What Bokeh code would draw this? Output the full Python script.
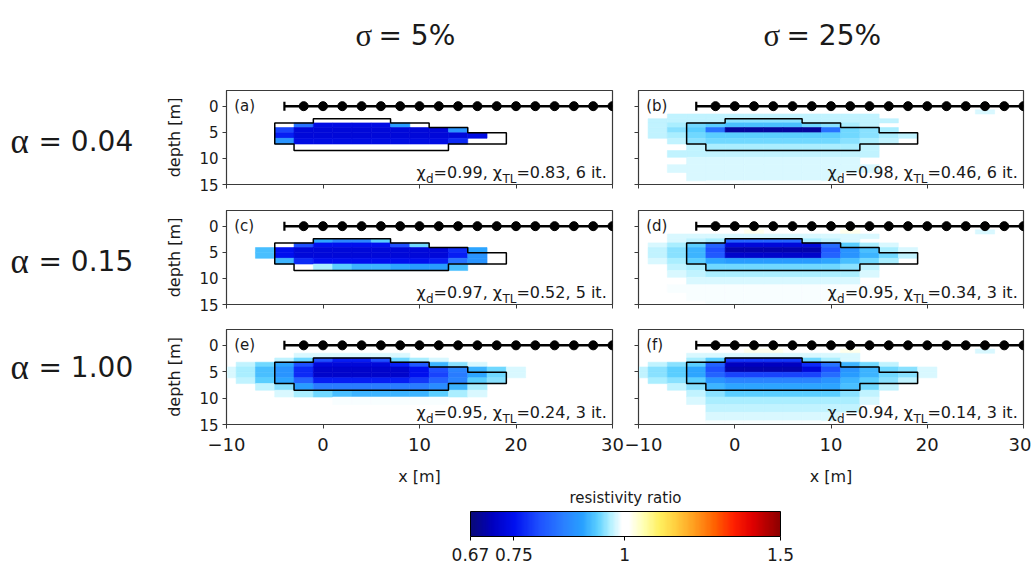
import numpy as np
from bokeh.plotting import figure
from bokeh.layouts import column, row
from bokeh.models import (Range1d, FixedTicker, Label, ColorBar, LogColorMapper,
                          ColumnDataSource, CustomJSTickFormatter)
from bokeh.transform import log_cmap
from bokeh.embed import file_html
from bokeh.resources import INLINE

# ---------------- data ----------------
cell_x = [-10, -8, -6, -4, -2, 0, 2, 4, 6, 8, 10, 12, 14, 16, 18, 20, 22, 24, 26, 28, 30]
cell_dx = 2.0
depth_edges = [0.0, 0.7, 1.5, 2.4, 3.2, 4.1, 5.1, 6.15, 7.25, 8.5, 9.8, 11.2, 12.7, 14.3, 16.0]
electrode_x = [-2, 0, 2, 4, 6, 8, 10, 12, 14, 16, 18, 20, 22, 24, 26, 28, 30]
cable_x = [-4, 30]
anomaly_x = [-5, -1, -1, 7, 7, 11, 11, 15, 15, 19, 19, 13, 13, -3, -3, -5, -5]
anomaly_z = [3.2, 3.2, 2.4, 2.4, 3.2, 3.2, 4.1, 4.1, 5.1, 5.1, 7.25, 7.25, 8.5, 8.5, 7.25, 7.25, 3.2]

ratio_ticks = [0.67, 0.75, 1, 1.5]
ratio_low, ratio_high = 0.67, 1.5

panel_tags = ["(a)", "(b)", "(c)", "(d)", "(e)", "(f)"]
chi_d = [0.99, 0.98, 0.97, 0.95, 0.95, 0.94]
chi_tl = [0.83, 0.46, 0.52, 0.34, 0.24, 0.14]
iterations = [6, 6, 5, 3, 3, 3]
alpha_labels = ["0.04", "0.15", "1.00"]
sigma_labels = ["5%", "25%"]

# resistivity ratio x100, rows = depth layers, columns = cell_x
ratio_a = [
    [100,100,100,100,100,100,100,100,100,100,100,100,100,100,100,100,100,100,100,100,100],
    [100,100,100,100,100,100,100,100,100,100,100,100,100,100,100,100,100,100,100,100,100],
    [100,100,100,100,100,100,100,100,100,100,100,100,100,100,100,100,100,100,100,100,100],
    [100,100,100,100,100,100,100,100,100,100,100,100,100,100,100,100,100,100,100,100,100],
    [100,100,100,100,84,74,74,74,74,89,100,100,100,100,100,100,100,100,100,100,100],
    [100,100,100,79,73,73,73,73,73,73,73,73,88,100,100,100,100,100,100,100,100],
    [100,100,100,76,73,73,73,73,73,73,73,73,73,74,100,100,100,100,100,100,100],
    [100,100,100,88,74,74,74,74,74,74,74,74,77,100,100,100,100,100,100,100,100],
    [100,100,100,100,100,100,100,100,100,100,100,100,100,100,100,100,100,100,100,100,100],
    [100,100,100,100,100,100,100,100,100,100,100,100,100,100,100,100,100,100,100,100,100],
    [100,100,100,100,100,100,100,100,100,100,100,100,100,100,100,100,100,100,100,100,100],
    [100,100,100,100,100,100,100,100,100,100,100,100,100,100,100,100,100,100,100,100,100],
    [100,100,100,100,100,100,100,100,100,100,100,100,100,100,100,100,100,100,100,100,100],
    [100,100,100,100,100,100,100,100,100,100,100,100,100,100,100,100,100,100,100,100,100],
]
ratio_b = [
    [100,100,100,100,100,100,100,100,100,100,100,100,100,100,100,100,100,100,100,100,100],
    [100,100,100,100,100,100,100,100,100,100,100,100,100,100,100,100,100,100,98,100,100],
    [100,100,97,97,97,97,97,97,97,97,97,97,97,100,100,100,100,100,100,100,100],
    [100,97,97,97,97,95,95,95,95,97,97,97,97,97,100,100,100,100,100,100,100],
    [100,97,96,94,93,92,92,92,92,94,95,96,97,100,100,100,100,100,100,100,100],
    [100,97,95,93,84,69,69,69,69,69,84,94,95,96,100,100,100,100,100,100,100],
    [100,97,96,94,93,93,93,93,93,93,93,94,95,96,97,100,100,100,100,100,100],
    [100,100,97,95,94,94,94,94,94,94,94,95,96,97,100,100,100,100,100,100,100],
    [100,100,100,97,96,96,96,96,96,96,96,96,97,100,100,100,100,100,100,100,100],
    [100,100,97,97,97,97,97,97,97,97,97,97,97,100,100,100,100,100,100,100,100],
    [100,100,100,98,98,98,98,98,98,98,98,98,100,100,100,100,100,100,100,100,100],
    [100,100,98,98,98,98,98,98,98,98,98,98,98,100,100,100,100,100,100,100,100],
    [100,100,100,98,98,98,98,98,98,98,98,100,100,100,100,100,100,100,100,100,100],
    [100,100,100,100,99,99,99,99,99,99,100,100,100,100,100,100,100,100,100,100,100],
]
ratio_c = [
    [100,100,100,100,100,100,100,100,100,100,100,100,100,100,100,100,100,100,100,100,100],
    [100,100,100,100,100,100,100,100,100,100,100,100,100,100,100,100,100,100,100,100,100],
    [100,100,100,100,100,100,100,100,100,100,100,100,100,100,100,100,100,100,100,100,100],
    [100,100,100,100,100,90,86,86,93,100,100,100,100,100,100,100,100,100,100,100,100],
    [100,100,100,100,80,75,75,75,75,80,94,100,100,100,100,100,100,100,100,100,100],
    [100,100,92,75,73,73,73,73,73,73,73,73,77,90,100,100,100,100,100,100,100],
    [100,100,92,75,73,73,73,73,73,73,73,73,76,88,100,100,100,100,100,100,100],
    [100,100,100,91,77,75,75,75,75,75,75,76,84,88,100,100,100,100,100,100,100],
    [100,100,100,100,100,96,93,91,91,90,89,89,92,100,100,100,100,100,100,100,100],
    [100,100,100,100,100,100,100,100,100,100,100,100,100,100,100,100,100,100,100,100,100],
    [100,100,100,100,100,100,100,100,100,100,100,100,100,100,100,100,100,100,100,100,100],
    [100,100,100,100,100,100,100,100,100,100,100,100,100,100,100,100,100,100,100,100,100],
    [100,100,100,100,100,100,100,100,100,100,100,100,100,100,100,100,100,100,100,100,100],
    [100,100,100,100,100,100,100,100,100,100,100,100,100,100,100,100,100,100,100,100,100],
]
ratio_d = [
    [100,100,100,100,100,100,100,100,100,100,100,100,100,100,100,100,100,100,100,100,100],
    [100,100,100,100,100,100,102,100,100,100,100,102,100,100,100,100,100,100,98,100,100],
    [100,100,98,98,98,98,98,98,98,98,98,98,98,100,100,100,100,100,100,100,100],
    [100,100,98,97,96,82,82,82,82,96,97,98,100,100,100,100,100,100,100,100,100],
    [100,98,96,93,82,73,73,73,73,73,83,93,96,98,100,100,100,100,100,100,100],
    [100,97,95,91,80,70,70,70,70,70,81,88,92,96,98,100,100,100,100,100,100],
    [100,97,95,91,81,72,72,72,72,72,82,88,91,94,97,100,100,100,100,100,100],
    [100,98,96,93,90,89,89,89,89,89,90,92,94,96,100,100,100,100,100,100,100],
    [100,100,97,96,94,94,94,94,94,94,94,95,97,100,100,100,100,100,100,100,100],
    [100,100,98,97,96,96,96,96,96,96,96,96,98,100,100,100,100,100,100,100,100],
    [100,100,100,98,98,98,98,98,98,98,98,98,100,100,100,100,100,100,100,100,100],
    [100,100,99,99,99,99,99,99,99,99,99,99,99,100,100,100,100,100,100,100,100],
    [100,100,100,99,99,99,99,99,99,99,99,100,100,100,100,100,100,100,100,100,100],
    [100,100,100,100,99,99,99,99,99,99,100,100,100,100,100,100,100,100,100,100,100],
]
ratio_e = [
    [100,100,100,100,100,100,100,100,100,100,100,100,100,100,100,100,100,100,100,100,100],
    [100,100,100,100,100,100,100,100,100,100,100,100,100,100,100,100,100,100,100,100,100],
    [100,100,100,100,98,98,98,98,98,98,100,100,100,100,100,100,100,100,100,100,100],
    [100,100,100,97,94,80,76,76,80,94,96,98,100,100,100,100,100,100,100,100,100],
    [100,97,94,90,80,73,73,73,73,76,81,91,95,98,100,100,100,100,100,100,100],
    [98,96,92,88,77,72,72,72,72,72,75,80,86,91,94,98,100,100,100,100,100],
    [98,96,92,88,77,72,72,72,72,72,75,79,85,90,94,98,100,100,100,100,100],
    [100,97,93,90,82,76,76,76,76,76,78,82,86,93,95,100,100,100,100,100,100],
    [100,100,97,95,89,85,85,85,85,85,85,87,91,96,100,100,100,100,100,100,100],
    [100,100,100,98,96,94,92,91,91,91,91,93,96,98,100,100,100,100,100,100,100],
    [100,100,100,100,100,100,99,99,99,99,99,99,100,100,100,100,100,100,100,100,100],
    [100,100,100,100,100,100,100,100,100,100,100,100,100,100,100,100,100,100,100,100,100],
    [100,100,100,100,100,100,100,100,100,100,100,100,100,100,100,100,100,100,100,100,100],
    [100,100,100,100,100,100,100,100,100,100,100,100,100,100,100,100,100,100,100,100,100],
]
ratio_f = [
    [100,100,100,100,100,100,100,100,100,100,100,100,100,100,100,100,100,100,100,100,100],
    [100,100,100,100,100,100,102,102,100,100,100,102,100,100,100,100,100,100,98,100,100],
    [100,100,100,98,98,98,98,98,98,98,98,98,100,100,100,100,100,100,100,100,100],
    [100,100,100,96,93,78,78,78,78,94,96,98,100,100,100,100,100,100,100,100,100],
    [100,97,95,93,82,71,71,71,71,77,84,91,94,97,100,100,100,100,100,100,100],
    [97,95,93,90,80,70,70,70,70,73,80,88,91,94,95,98,100,100,100,100,100],
    [97,95,93,90,82,79,79,79,79,79,83,89,91,94,95,98,100,100,100,100,100],
    [100,96,95,93,88,86,86,86,86,86,88,91,93,95,97,100,100,100,100,100,100],
    [100,100,97,95,91,90,90,90,90,90,90,92,94,97,100,100,100,100,100,100,100],
    [100,100,100,97,95,93,93,93,93,93,93,95,97,100,100,100,100,100,100,100,100],
    [100,100,100,98,96,96,96,96,96,96,96,96,98,100,100,100,100,100,100,100,100],
    [100,100,100,100,97,97,97,97,97,97,97,97,100,100,100,100,100,100,100,100,100],
    [100,100,100,100,98,98,98,98,98,98,98,100,100,100,100,100,100,100,100,100,100],
    [100,100,100,100,99,99,99,99,99,99,100,100,100,100,100,100,100,100,100,100,100],
]
panel_grids = [ratio_a, ratio_b, ratio_c, ratio_d, ratio_e, ratio_f]

# ---------------- style ----------------
FONT = "DejaVu Sans"
SERIF = "Liberation Serif"
TXT = "#1a1a1a"
FRAME = "#3a3a3a"

anchors = [(0.00, "#0a0a78"), (0.07, "#0000c0"), (0.14, "#0010f0"), (0.22, "#1e50ff"),
           (0.30, "#2a80ff"), (0.36, "#28a0ff"), (0.41, "#5cd0ff"), (0.45, "#b0f0ff"),
           (0.49, "#ffffff"), (0.51, "#ffffff"), (0.56, "#ffffb0"), (0.61, "#fff060"),
           (0.66, "#ffd040"), (0.72, "#ffa020"), (0.79, "#ff6000"), (0.85, "#ff2000"),
           (0.91, "#e00000"), (1.00, "#8c0000")]


def build_palette(anch, n=256):
    ts = [a[0] for a in anch]
    rgb = [tuple(int(a[1][k:k + 2], 16) for k in (1, 3, 5)) for a in anch]
    out = []
    for k in range(n):
        t = k / (n - 1)
        c = [int(round(np.interp(t, ts, [v[i] for v in rgb]))) for i in range(3)]
        out.append("#%02x%02x%02x" % tuple(c))
    return out


PALETTE = build_palette(anchors)

ADV = {' ': 0.318, '=': 0.838, '.': 0.318, ',': 0.318, 'i': 0.278, 't': 0.392,
       'd': 0.635, 'T': 0.611, 'L': 0.557, 'χ': 0.60}


def tw(s, size):
    return sum(ADV.get(c, 0.636) for c in s) * size


MAIN_FS, SUB_FS = 16, 12
ROW_MBB = [22, 21, 63]


def make_panel(k, left_col, row_idx):
    bottom_row = row_idx == 2
    fw = 386 if left_col else 385
    fh = 95 if bottom_row else 94
    p = figure(frame_width=fw, frame_height=fh, x_range=Range1d(-10, 30), y_range=Range1d(15, -3),
               output_backend="svg", toolbar_location=None,
               min_border_left=68 if left_col else 14, min_border_right=12 if left_col else 8,
               min_border_top=4, min_border_bottom=ROW_MBB[row_idx],
               outline_line_color=FRAME, outline_line_width=1.2,
               background_fill_color="white", border_fill_color="white")
    p.grid.visible = False

    grid = panel_grids[k]
    L, R, T, B, V = [], [], [], [], []
    for i, rvals in enumerate(grid):
        for xc, v in zip(cell_x, rvals):
            if v == 100:
                continue
            L.append(xc - cell_dx / 2); R.append(xc + cell_dx / 2)
            T.append(depth_edges[i]); B.append(depth_edges[i + 1]); V.append(v / 100.0)
    src = ColumnDataSource(dict(left=L, right=R, top=T, bottom=B, ratio=V))
    cmap = log_cmap("ratio", PALETTE, low=ratio_low, high=ratio_high)
    p.quad(left="left", right="right", top="top", bottom="bottom", source=src,
           fill_color=cmap, line_color=cmap, line_width=0.6)

    p.patch(anomaly_x, anomaly_z, fill_alpha=0, line_color="black", line_width=1.5)
    p.line(cable_x, [0] * len(cable_x), color="black", line_width=2.5)
    p.scatter(electrode_x, [0] * len(electrode_x), size=9, color="black")
    p.scatter([cable_x[0]], [0], marker="dash", angle=np.pi / 2, size=9, line_width=2.2,
              line_color="black")

    xa, ya = p.xaxis[0], p.yaxis[0]
    xa.ticker = FixedTicker(ticks=[-10, 0, 10, 20, 30])
    ya.ticker = FixedTicker(ticks=[0, 5, 10, 15])
    for ax in (xa, ya):
        ax.major_tick_out = 4
        ax.major_tick_in = 0
        ax.minor_tick_line_color = None
        ax.axis_line_color = FRAME
        ax.major_tick_line_color = FRAME
        ax.major_label_text_font = FONT
        ax.major_label_text_color = TXT
        ax.axis_label_text_font = FONT
        ax.axis_label_text_font_style = "normal"
        ax.axis_label_text_color = TXT
    if left_col:
        ya.major_label_text_font_size = "15px"
        ya.major_label_standoff = 4
        ya.axis_label = "depth [m]"
        ya.axis_label_text_font_size = "16px"
        ya.axis_label_standoff = 12
    else:
        ya.major_label_overrides = {0: "", 5: "", 10: "", 15: ""}
        ya.major_label_text_font_size = "8px"
        ya.major_label_standoff = 0
    if bottom_row:
        xa.major_label_text_font_size = "18px"
        xa.major_label_standoff = 9
        xa.major_label_overrides = {-10: "\u221210"}
        xa.axis_label = "x [m]"
        xa.axis_label_text_font_size = "16px"
        xa.axis_label_standoff = 13
    else:
        xa.major_label_overrides = {-10: "", 0: "", 10: "", 20: "", 30: ""}
        xa.major_label_text_font_size = "8px"
        xa.major_label_standoff = 0

    p.add_layout(Label(x=-9.2, y=0, text=panel_tags[k], text_font=FONT, text_font_size="15px",
                       text_baseline="middle", text_color=TXT))

    pieces = [("χ", False), ("d", True), ("=%.2f, χ" % chi_d[k], False), ("TL", True),
              ("=%.2f, %d it." % (chi_tl[k], iterations[k]), False)]
    widths = [tw(s, SUB_FS if sub else MAIN_FS) for s, sub in pieces]
    total = sum(widths)
    cur = 0.0
    for (s, sub), w in zip(pieces, widths):
        p.add_layout(Label(x=29.4, y=13.95 if sub else 12.7, x_offset=cur - total, text=s,
                           text_font=FONT, text_font_size="%dpx" % (SUB_FS if sub else MAIN_FS),
                           text_baseline="alphabetic", text_align="left", text_color=TXT))
        cur += w
    return p


def blank(w, h):
    f = figure(width=w, height=h, x_range=Range1d(0, w), y_range=Range1d(0, h),
               output_backend="svg", toolbar_location=None, min_border=0,
               x_axis_location=None, y_axis_location=None, outline_line_color=None,
               background_fill_color="white", border_fill_color="white")
    f.grid.visible = False
    return f


# header with sigma titles
HDR_H = 86
header = blank(1031, HDR_H)
for xs, xt, lab in [(355, 378, sigma_labels[0]), (763, 786, sigma_labels[1])]:
    header.add_layout(Label(x=xs, y=51, text="σ", text_font=SERIF, text_font_size="31px",
                            text_baseline="alphabetic", text_color=TXT))
    header.add_layout(Label(x=xt, y=51, text="= " + lab, text_font=FONT, text_font_size="28px",
                            text_baseline="alphabetic", text_color=TXT))

row_heights = [120, 119, 162]
row_base = [55, 54, 96]
rows = []
for r in range(3):
    lab = blank(158, row_heights[r])
    lab.add_layout(Label(x=10, y=row_base[r], text="α", text_font=SERIF, text_font_size="35px",
                         text_baseline="alphabetic", text_color=TXT))
    lab.add_layout(Label(x=38, y=row_base[r], text="= " + alpha_labels[r], text_font=FONT,
                         text_font_size="28px", text_baseline="alphabetic", text_color=TXT))
    pl = make_panel(2 * r, True, r)
    pr = make_panel(2 * r + 1, False, r)
    rows.append(row(lab, pl, pr))

# colorbar
CB_H = 76
cbf = blank(1031, CB_H)
mapper = LogColorMapper(palette=PALETTE, low=ratio_low, high=ratio_high)
cb = ColorBar(color_mapper=mapper, orientation="horizontal", width=310, height=25,
              location=(470, 1), padding=0, ticker=FixedTicker(ticks=ratio_ticks),
              formatter=CustomJSTickFormatter(code="return String(tick);"),
              major_label_text_font=FONT, major_label_text_font_size="17px",
              major_label_text_color=TXT, label_standoff=7,
              major_tick_out=4, major_tick_in=0, major_tick_line_color="black",
              minor_tick_line_color=None, bar_line_color="black", bar_line_width=1,
              background_fill_color=None, border_line_color=None)
cbf.add_layout(cb, "center")
cbf.add_layout(Label(x=625, y=67, text="resistivity ratio", text_font=FONT, text_font_size="15px",
                     text_align="center", text_baseline="middle", text_color=TXT))

layout = column(header, *rows, cbf)
open("out.html", "w").write(file_html(layout, INLINE))
